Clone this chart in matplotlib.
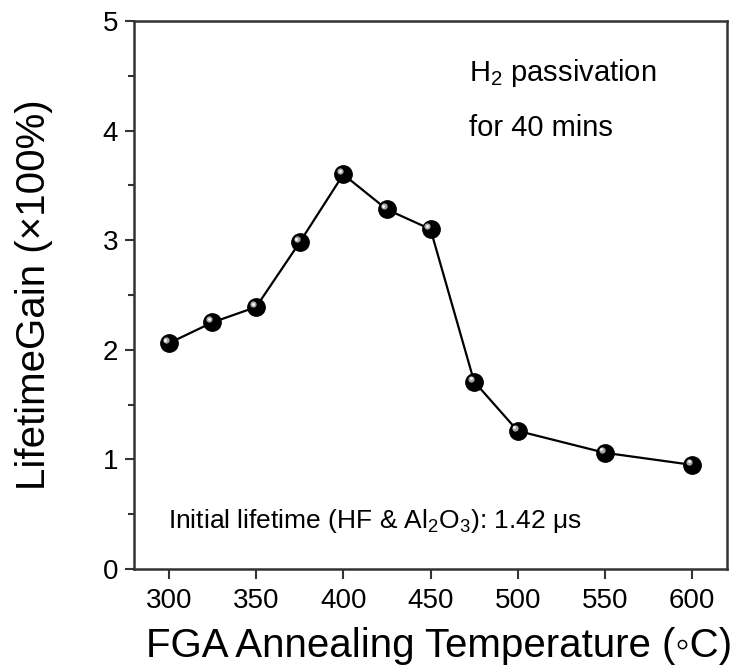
import matplotlib
matplotlib.use('Agg')
import matplotlib.pyplot as plt
import matplotlib.transforms as mtransforms
from matplotlib.ticker import MultipleLocator

plt.rcParams['font.family'] = ['Liberation Sans', 'DejaVu Sans']
plt.rcParams['mathtext.fontset'] = 'custom'
plt.rcParams['mathtext.rm'] = 'Liberation Sans'
plt.rcParams['mathtext.default'] = 'regular'

# data
temps = [300, 325, 350, 375, 400, 425, 450, 475, 500, 550, 600]
gain = [2.06, 2.25, 2.39, 2.98, 3.60, 3.28, 3.10, 1.71, 1.26, 1.06, 0.95]
xticks = [300, 350, 400, 450, 500, 550, 600]
yticks = [0, 1, 2, 3, 4, 5]

fig = plt.figure(figsize=(7.42, 6.72), dpi=100)
ax = fig.add_axes([0.1806, 0.1533, 0.7992, 0.8155])

# line and "ball" markers
ax.plot(temps, gain, color='black', lw=1.6, zorder=2)
ax.plot(temps, gain, 'o', ms=12.5, color='black', mec='black', zorder=3)
shine = mtransforms.offset_copy(ax.transData, fig=fig, x=-2.2, y=2.2, units='points')
ax.plot(temps, gain, 'o', ms=4.5, color='#bbbbbb', mec='none', alpha=0.9,
        transform=shine, zorder=4)
shine2 = mtransforms.offset_copy(ax.transData, fig=fig, x=-2.5, y=2.5, units='points')
ax.plot(temps, gain, 'o', ms=2, color='white', mec='none',
        transform=shine2, zorder=5)

ax.set_xlim(280, 620)
ax.set_ylim(0, 5)
ax.set_xticks(xticks)
ax.set_yticks(yticks)
ax.yaxis.set_minor_locator(MultipleLocator(0.5))

ax.tick_params(axis='both', which='major', direction='out', labelsize=20,
               width=1.5, color='#333333')
ax.tick_params(axis='x', which='major', length=7.5, pad=6.5)
ax.tick_params(axis='y', which='major', length=6.5, pad=5)
ax.tick_params(axis='y', which='minor', direction='out', length=4, width=1.5,
               color='#333333')
for s in ax.spines.values():
    s.set_linewidth(1.8)
    s.set_color('#333333')

ax.set_xlabel('FGA Annealing Temperature (\u25e6C)', fontsize=29, labelpad=8)
ax.xaxis.set_label_coords(0.515, -0.105)
ax.set_ylabel('LifetimeGain (\u00d7100%)', fontsize=29, labelpad=36)

ax.text(0.565, 0.905, 'H$_2$ passivation', transform=ax.transAxes,
        fontsize=21, va='center', ha='left')
ax.text(0.565, 0.805, 'for 40 mins', transform=ax.transAxes,
        fontsize=21, va='center', ha='left')
ax.text(0.057, 0.087, 'Initial lifetime (HF & Al$_2$O$_3$): 1.42 \u03bcs',
        transform=ax.transAxes, fontsize=19, va='center', ha='left')

fig.savefig('out.png', dpi=100)
